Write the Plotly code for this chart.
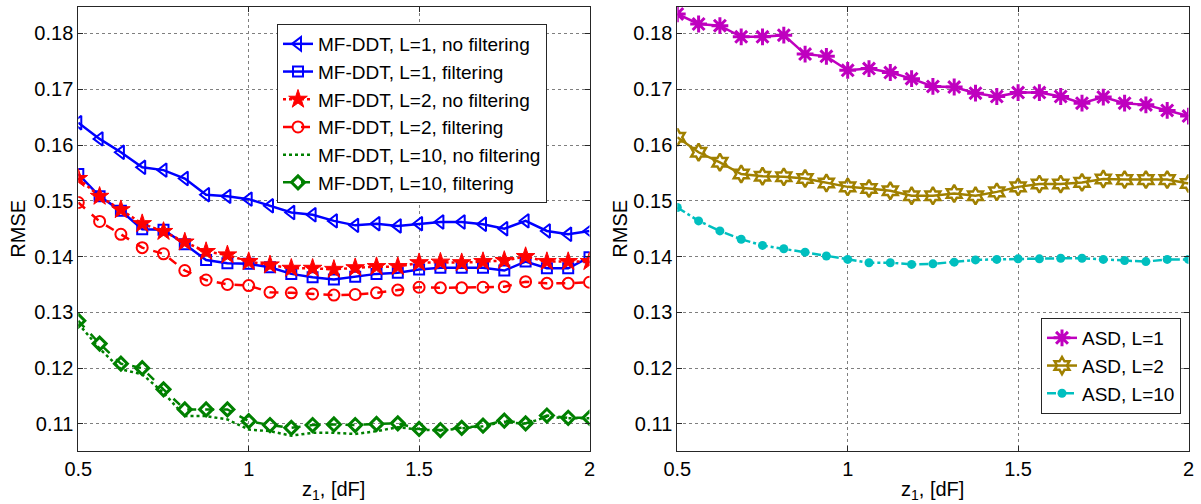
import plotly.graph_objects as go

# ---- data ----
z1 = [0.5 + 0.0625 * i for i in range(25)]

mf_l1_nofilt = [0.1640, 0.1611, 0.1587, 0.1560, 0.1555, 0.1540, 0.1511, 0.1508, 0.1503,
                0.1491, 0.1479, 0.1475, 0.1464, 0.1456, 0.1459, 0.1455, 0.1459, 0.1462,
                0.1462, 0.1458, 0.1450, 0.1464, 0.1446, 0.1440, 0.1446]
mf_l1_filt = [0.1548, 0.1508, 0.1482, 0.1449, 0.1448, 0.1422, 0.1394, 0.1388, 0.1387,
              0.1381, 0.1369, 0.1363, 0.1359, 0.1364, 0.1369, 0.1371, 0.1377, 0.1380,
              0.1380, 0.1380, 0.1375, 0.1391, 0.1379, 0.1379, 0.1399]
mf_l2_nofilt = [0.1540, 0.1508, 0.1484, 0.1459, 0.1445, 0.1426, 0.1409, 0.1403, 0.1391,
                0.1385, 0.1379, 0.1379, 0.1377, 0.1380, 0.1382, 0.1382, 0.1389, 0.1390,
                0.1389, 0.1391, 0.1393, 0.1400, 0.1391, 0.1391, 0.1391]
mf_l2_filt = [0.1497, 0.1463, 0.1440, 0.1416, 0.1405, 0.1375, 0.1358, 0.1350, 0.1348,
              0.1336, 0.1335, 0.1333, 0.1331, 0.1332, 0.1335, 0.1340, 0.1345, 0.1344,
              0.1344, 0.1345, 0.1346, 0.1355, 0.1352, 0.1352, 0.1354]
mf_l10_nofilt = [0.1280, 0.1235, 0.1198, 0.1189, 0.1156, 0.1114, 0.1114, 0.1108, 0.1090,
                 0.1087, 0.1079, 0.1084, 0.1084, 0.1082, 0.1087, 0.1094, 0.1090, 0.1088,
                 0.1092, 0.1096, 0.1104, 0.1100, 0.1113, 0.1110, 0.1110]
mf_l10_filt = [0.1285, 0.1244, 0.1208, 0.1200, 0.1162, 0.1126, 0.1126, 0.1126, 0.1105,
               0.1098, 0.1093, 0.1098, 0.1099, 0.1098, 0.1100, 0.1101, 0.1091, 0.1089,
               0.1093, 0.1097, 0.1106, 0.1101, 0.1115, 0.1111, 0.1111]

asd_l1 = [0.1835, 0.1817, 0.1814, 0.1794, 0.1794, 0.1797, 0.1763, 0.1759, 0.1734,
          0.1737, 0.1730, 0.1719, 0.1705, 0.1704, 0.1693, 0.1687, 0.1694, 0.1694,
          0.1687, 0.1675, 0.1686, 0.1675, 0.1672, 0.1662, 0.1652]
asd_l2 = [0.1614, 0.1587, 0.1569, 0.1548, 0.1544, 0.1543, 0.1540, 0.1532, 0.1525,
          0.1522, 0.1518, 0.1509, 0.1509, 0.1513, 0.1509, 0.1516, 0.1525, 0.1530,
          0.1530, 0.1533, 0.1539, 0.1538, 0.1538, 0.1538, 0.1531]
asd_l10 = [0.1488, 0.1464, 0.1446, 0.1431, 0.1420, 0.1414, 0.1408, 0.1401, 0.1395,
           0.1389, 0.1389, 0.1386, 0.1387, 0.1390, 0.1394, 0.1395, 0.1396, 0.1396,
           0.1397, 0.1397, 0.1395, 0.1393, 0.1391, 0.1395, 0.1395]

x_ticks = [0.5, 1, 1.5, 2]
x_tick_labels = ["0.5", "1", "1.5", "2"]
y_ticks = [0.11, 0.12, 0.13, 0.14, 0.15, 0.16, 0.17, 0.18]
y_tick_labels = ["0.11", "0.12", "0.13", "0.14", "0.15", "0.16", "0.17", "0.18"]
x_title = "z<sub>1</sub>, [dF]"
y_title = "RMSE"

BLUE = "#0000FF"
RED = "#FF0000"
GREEN = "#008000"
MAG = "#BF00BF"
OLIVE = "#A08000"
CYAN = "#00BFBF"
FONT = "Liberation Sans, Arial, sans-serif"

fig = go.Figure()

def add(y, name, color, dash, symbol, msize, mlw, xa, ya, legend, mode="lines+markers", lw=2.5):
    fig.add_trace(go.Scatter(
        x=z1, y=y, name=name, mode=mode, xaxis=xa, yaxis=ya, legend=legend,
        line=dict(color=color, width=lw, dash=dash),
        marker=dict(symbol=symbol, size=msize, color=color,
                    line=dict(color=color, width=mlw)),
    ))

add(mf_l1_nofilt, "MF-DDT, L=1, no filtering", BLUE, "solid", "triangle-left-open", 12, 2, "x", "y", "legend")
add(mf_l1_filt, "MF-DDT, L=1, filtering", BLUE, "solid", "square-open", 10, 2, "x", "y", "legend")
add(mf_l2_nofilt, "MF-DDT, L=2, no filtering", RED, "dot", "star", 14, 1, "x", "y", "legend")
add(mf_l2_filt, "MF-DDT, L=2, filtering", RED, "dash", "circle-open", 11, 2, "x", "y", "legend")
add(mf_l10_nofilt, "MF-DDT, L=10, no filtering", GREEN, "dot", "circle", 1, 0, "x", "y", "legend", mode="lines")
add(mf_l10_filt, "MF-DDT, L=10, filtering", GREEN, "dash", "diamond-open", 10, 3, "x", "y", "legend")

add(asd_l1, "ASD, L=1", MAG, "solid", "asterisk-open", 14, 3, "x2", "y2", "legend2")
add(asd_l2, "ASD, L=2", OLIVE, "solid", "hexagram-open", 13, 2.5, "x2", "y2", "legend2")
add(asd_l10, "ASD, L=10", CYAN, "dashdot", "circle", 9, 0, "x2", "y2", "legend2")

H = 504
W = 1201
axis_common = dict(
    showline=True, linecolor="#262626", linewidth=1, mirror="ticks",
    ticks="inside", ticklen=5, tickcolor="#262626", automargin=False,
    showgrid=True, gridcolor="#7f7f7f", griddash="dot", gridwidth=1,
    zeroline=False, tickfont=dict(family=FONT, size=20, color="black"),
)
xdom1 = [78.3 / W, 589.5 / W]
xdom2 = [677.3 / W, 1188.5 / W]
ydom = [(H - 450.7) / H, (H - 6.7) / H]

fig.update_layout(
    width=W, height=H,
    margin=dict(l=0, r=0, t=0, b=0, autoexpand=False),
    paper_bgcolor="white", plot_bgcolor="white",
    font=dict(family=FONT, size=20, color="black"),
    xaxis=dict(domain=xdom1, range=[0.5, 2], tickvals=x_ticks, ticktext=x_tick_labels,
               anchor="y", **axis_common),
    yaxis=dict(domain=ydom, range=[0.1052, 0.1848], tickvals=y_ticks, ticktext=y_tick_labels,
               anchor="x", **axis_common),
    xaxis2=dict(domain=xdom2, range=[0.5, 2], tickvals=x_ticks, ticktext=x_tick_labels,
                anchor="y2", **axis_common),
    yaxis2=dict(domain=ydom, range=[0.1052, 0.1848], tickvals=y_ticks, ticktext=y_tick_labels,
                anchor="x2", **axis_common),
    legend=dict(x=277 / W, y=1 - 24 / H, xanchor="left", yanchor="top",
                bgcolor="white", bordercolor="#262626", borderwidth=1,
                font=dict(family=FONT, size=19), tracegroupgap=0, itemwidth=30),
    legend2=dict(x=1181 / W, y=1 - 414 / H, xanchor="right", yanchor="bottom",
                 bgcolor="white", bordercolor="#262626", borderwidth=1,
                 font=dict(family=FONT, size=19), tracegroupgap=0, itemwidth=30),
    showlegend=True,
)

# axis titles as annotations placed in paper coordinates
for xc in [(xdom1[0] + xdom1[1]) / 2, (xdom2[0] + xdom2[1]) / 2]:
    fig.add_annotation(text=x_title, x=xc, y=1 - 490 / H, xref="paper", yref="paper",
                       showarrow=False, xanchor="center", yanchor="middle",
                       font=dict(family=FONT, size=20, color="black"))
for xp in [18, 620]:
    fig.add_annotation(text=y_title, x=xp / W, y=(ydom[0] + ydom[1]) / 2, xref="paper", yref="paper",
                       showarrow=False, xanchor="center", yanchor="middle", textangle=-90,
                       font=dict(family=FONT, size=20, color="black"))

fig.write_html(
    "out.html",
    config={"displayModeBar": False},
    post_script="document.body.style.margin='0';document.body.style.overflow='hidden';",
)
